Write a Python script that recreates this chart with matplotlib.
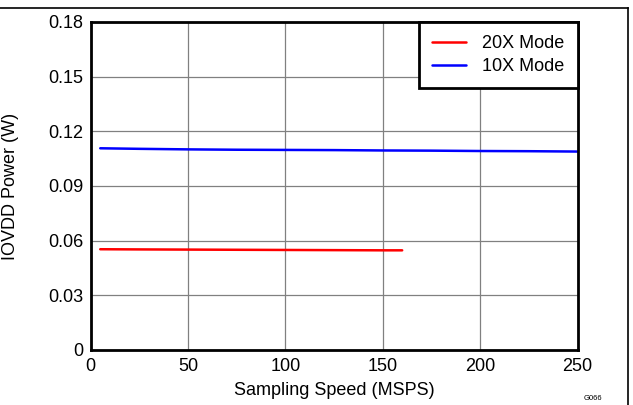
import matplotlib
matplotlib.use("Agg")
import matplotlib.pyplot as plt
from matplotlib.lines import Line2D

plt.rcParams["font.family"] = ["Liberation Sans", "DejaVu Sans"]

# data
speed_10x = [5, 25, 50, 75, 100, 125, 150, 175, 200, 225, 250]
power_10x = [0.1107, 0.1104, 0.1101, 0.1099, 0.1098, 0.1097, 0.1095, 0.1094, 0.1092, 0.1091, 0.1089]
speed_20x = [5, 25, 50, 75, 100, 125, 150, 160]
power_20x = [0.0553, 0.0552, 0.0551, 0.0550, 0.0549, 0.0548, 0.0547, 0.0547]

x_ticks = [0, 50, 100, 150, 200, 250]
y_ticks = [0, 0.03, 0.06, 0.09, 0.12, 0.15, 0.18]
y_tick_labels = ["0", "0.03", "0.06", "0.09", "0.12", "0.15", "0.18"]

W, H = 633, 405
fig = plt.figure(figsize=(W / 100, H / 100), dpi=100)
ax = fig.add_axes([90.5 / W, 55 / H, 487 / W, 328 / H])

ax.plot(speed_20x, power_20x, color="#ff0000", lw=1.8, label="20X Mode", solid_capstyle="round")
ax.plot(speed_10x, power_10x, color="#0000ff", lw=1.8, label="10X Mode", solid_capstyle="round")

ax.set_xlim(0, 250)
ax.set_ylim(0, 0.18)
ax.set_xticks(x_ticks)
ax.set_yticks(y_ticks)
ax.set_yticklabels(y_tick_labels)
ax.tick_params(length=0, labelsize=13)
ax.tick_params(axis="y", pad=5)
ax.tick_params(axis="x", pad=6)
ax.grid(True, color="#808080", lw=0.9)
ax.set_axisbelow(True)
for s in ax.spines.values():
    s.set_linewidth(2)
    s.set_color("black")

ax.set_xlabel("Sampling Speed (MSPS)", fontsize=13)
ax.xaxis.set_label_coords(0.5, (350 - 382) / 328)
ax.set_ylabel("IOVDD Power (W)", fontsize=13)
ax.yaxis.set_label_coords((19 - 90.5) / 487, 0.5)

leg = ax.legend(loc="upper right", bbox_to_anchor=(1.0, 1.0), fontsize=13,
                fancybox=False, framealpha=1, borderaxespad=0,
                handlelength=1.9, handletextpad=0.9, borderpad=0.72,
                labelspacing=0.35)
leg.get_frame().set_edgecolor("black")
leg.get_frame().set_linewidth(2)

fig.text(593 / W, 1 - 398 / H, "G066", fontsize=5.5, ha="center", va="center")

# page frame lines
fig.add_artist(Line2D([0, 627.5 / W], [1 - 8 / H, 1 - 8 / H], color="black", lw=1.2))
fig.add_artist(Line2D([627.5 / W, 627.5 / W], [0, 1 - 8 / H], color="black", lw=1.2))

fig.savefig("out.png", dpi=100)
